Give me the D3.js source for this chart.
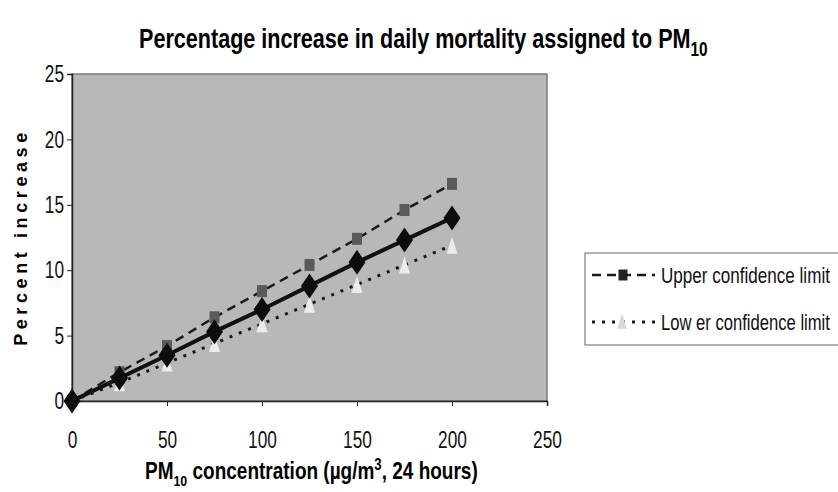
<!DOCTYPE html>
<html>
<head>
<meta charset="utf-8">
<script src="https://cdn.jsdelivr.net/npm/d3@7"></script>
<style>
  body { margin: 0; background: #fff; }
  svg { display: block; font-family: "Liberation Sans", Arial, sans-serif; }
</style>
</head>
<body>
<div id="chart"></div>
<script>
// PM10 concentration (ug/m3)
const concentration = [0, 25, 50, 75, 100, 125, 150, 175, 200]
// percent increase in daily mortality
const central = [0, 1.75, 3.5, 5.3, 7.0, 8.8, 10.6, 12.3, 14.0]
const upper = [0, 2.2, 4.2, 6.4, 8.4, 10.4, 12.4, 14.6, 16.6]
const lower = [0, 1.4, 2.9, 4.4, 5.9, 7.4, 8.9, 10.4, 11.9]
const xTicks = [0, 50, 100, 150, 200, 250]
const yTicks = [0, 5, 10, 15, 20, 25]
const legendLabels = ["Upper confidence limit", "Low er confidence limit"]

var width = 838,
    height = 492,
    margin = {top: 74, right: 291, bottom: 91, left: 72};

var svg = d3.select("#chart").append("svg")
  .attr("width", width)
  .attr("height", height)

var x = d3.scaleLinear()
  .domain([0, 250])
  .range([margin.left, width - margin.right])

var y = d3.scaleLinear()
  .domain([0, 25])
  .range([height - margin.bottom, margin.top])

// squeeze a text horizontally so it looks like a narrow font
function narrowText(px, py, anchor, targetWidth){
  var g = svg.append("g")
  var t = g.append("text").style("text-anchor", anchor)
  return {
    text: t,
    fit: function(){
      var w = t.node().getBBox().width
      g.attr("transform", "translate(" + px + "," + py + ") scale(" + (targetWidth / w) + ",1)")
    }
  }
}

// plot background
svg.append("rect")
  .attr("x", x(0))
  .attr("y", y(25))
  .attr("width", x(250) - x(0))
  .attr("height", y(0) - y(25))
  .style("fill", "#b8b8b8")
  .style("stroke", "#7a7a7a")
  .style("stroke-width", 1.5)

// axes
var xAxis = svg.append("g")
  .attr("transform", "translate(0," + y(0) + ")")
  .call(d3.axisBottom(x).tickValues(xTicks).tickSize(5).tickPadding(25))

var yAxis = svg.append("g")
  .attr("transform", "translate(" + x(0) + ",0)")
  .call(d3.axisLeft(y).tickValues(yTicks).tickSize(5).tickPadding(6))

svg.selectAll(".domain").style("stroke", "#222").style("stroke-width", 1.5)
svg.selectAll(".tick line").style("stroke", "#222")
svg.selectAll(".tick text")
  .style("font-family", "'Liberation Sans', Arial, sans-serif")
  .style("font-size", "24px")
  .style("fill", "#111")
  .attr("transform", "scale(0.72,1)")
yAxis.selectAll(".tick text").attr("x", -11)

var line = d3.line()
  .x(function(d, i){ return x(concentration[i]) })
  .y(function(d){ return y(d) })

// lines
svg.append("path")
  .datum(upper)
  .attr("d", line)
  .style("fill", "none")
  .style("stroke", "#1a1a1a")
  .style("stroke-width", 2.5)
  .style("stroke-dasharray", "9,6")

svg.append("path")
  .datum(lower)
  .attr("d", line)
  .style("fill", "none")
  .style("stroke", "#1a1a1a")
  .style("stroke-width", 3)
  .style("stroke-dasharray", "3,7")

svg.append("path")
  .datum(central)
  .attr("d", line)
  .style("fill", "none")
  .style("stroke", "#111")
  .style("stroke-width", 4)

// markers
var sq = function(w, h){
  return "M" + (-w / 2) + "," + (-h / 2) + "h" + w + "v" + h + "h" + (-w) + "Z"
}
var tri = function(w, h){
  return "M0," + (-h * 0.62) + "L" + (w / 2) + "," + (h * 0.38) + "L" + (-w / 2) + "," + (h * 0.38) + "Z"
}

svg.selectAll(".sq")
  .data(upper)
  .enter()
  .append("path")
  .attr("class", "sq")
  .attr("d", sq(10, 12))
  .attr("transform", function(d, i){ return "translate(" + x(concentration[i]) + "," + y(d) + ")" })
  .style("fill", "#5a5a5a")

svg.selectAll(".tri")
  .data(lower)
  .enter()
  .append("path")
  .attr("class", "tri")
  .attr("d", tri(11, 17))
  .attr("transform", function(d, i){ return "translate(" + x(concentration[i]) + "," + (y(d) + 2) + ")" })
  .style("fill", "#ececec")

svg.selectAll(".dia")
  .data(central)
  .enter()
  .append("path")
  .attr("class", "dia")
  .attr("d", "M0,-12.5L8.5,0L0,12.5L-8.5,0Z")
  .attr("transform", function(d, i){ return "translate(" + x(concentration[i]) + "," + y(d) + ")" })
  .style("fill", "#0d0d0d")

// title
var title = narrowText(139, 48, "start", 569)
title.text.style("font-size", "28px").style("font-weight", "bold")
title.text.append("tspan").text("Percentage increase in daily mortality assigned to PM")
title.text.append("tspan").attr("dy", 8).style("font-size", "20px").text("10")
title.fit()

// y title
svg.append("text")
  .attr("transform", "translate(27,237) rotate(-90)")
  .style("text-anchor", "middle")
  .style("font-size", "18px")
  .style("font-weight", "bold")
  .style("letter-spacing", "4.6px")
  .text("Percent increase")

// x title
var xt = narrowText(145, 479, "start", 333)
xt.text.style("font-size", "23px").style("font-weight", "bold")
xt.text.append("tspan").text("PM")
xt.text.append("tspan").attr("dy", 7).style("font-size", "15px").text("10")
xt.text.append("tspan").attr("dy", -7).text(" concentration (\u00b5g/m")
xt.text.append("tspan").attr("dy", -9).style("font-size", "16px").text("3")
xt.text.append("tspan").attr("dy", 9).text(", 24 hours)")
xt.fit()

// legend
svg.append("rect")
  .attr("x", 585)
  .attr("y", 253)
  .attr("width", 260)
  .attr("height", 92)
  .style("fill", "#fff")
  .style("stroke", "#666")
  .style("stroke-width", 1)

var legendItems = [
  {dash: "9,6", w: 2.5, y: 275, marker: "sq"},
  {dash: "3,7", w: 3, y: 322, marker: "tri"}
]

legendItems.forEach(function(d, i){
  svg.append("line")
    .attr("x1", 592).attr("x2", 655)
    .attr("y1", d.y).attr("y2", d.y)
    .style("stroke", "#1a1a1a")
    .style("stroke-width", d.w)
    .style("stroke-dasharray", d.dash)
  if(d.marker == "sq"){
    svg.append("path")
      .attr("d", sq(9, 11))
      .attr("transform", "translate(623," + d.y + ")")
      .style("fill", "#222")
  } else {
    svg.append("path")
      .attr("d", tri(10, 15))
      .attr("transform", "translate(622," + (d.y + 1) + ")")
      .style("fill", "#d8d8d8")
  }
  var lt = narrowText(661, d.y + 8, "start", 169)
  lt.text.style("font-size", "22px").style("fill", "#111").text(legendLabels[i])
  lt.fit()
})
</script>
</body>
</html>
